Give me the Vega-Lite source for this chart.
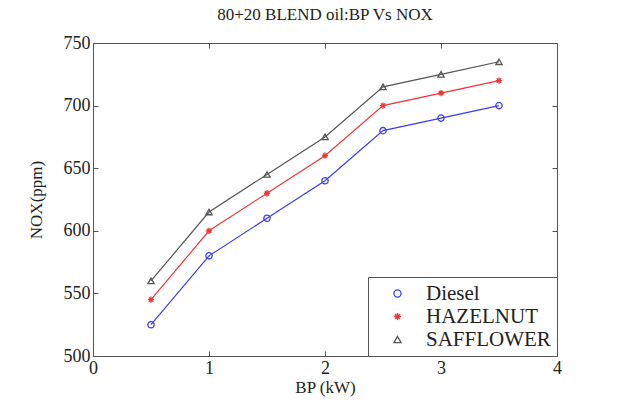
{
  "$schema": "https://vega.github.io/schema/vega-lite/v6.json",
  "width": 464,
  "height": 313,
  "autosize": {"type": "none"},
  "padding": {"left": 93, "top": 43, "right": 60, "bottom": 53},
  "background": "white",
  "title": {"text": "80+20 BLEND oil:BP Vs NOX", "font": "Liberation Serif", "fontSize": 17, "fontWeight": "normal", "color": "#222", "anchor": "middle", "offset": 10},
  "config": {
    "view": {"stroke": "#555", "strokeWidth": 1},
    "axis": {"grid": false, "labelFont": "Liberation Serif", "titleFont": "Liberation Serif", "labelFontSize": 18, "titleFontSize": 17, "titleFontWeight": "normal", "labelColor": "#222", "titleColor": "#222", "tickSize": -5, "tickColor": "#555", "domainColor": "#555"},
    "legend": {"labelFont": "Liberation Serif", "labelFontSize": 21, "labelColor": "#222"}
  },
  "data": {"values": [
    {"bp": 0.5, "nox": 525, "fuel": "Diesel"},
    {"bp": 1.0, "nox": 580, "fuel": "Diesel"},
    {"bp": 1.5, "nox": 610, "fuel": "Diesel"},
    {"bp": 2.0, "nox": 640, "fuel": "Diesel"},
    {"bp": 2.5, "nox": 680, "fuel": "Diesel"},
    {"bp": 3.0, "nox": 690, "fuel": "Diesel"},
    {"bp": 3.5, "nox": 700, "fuel": "Diesel"},
    {"bp": 0.5, "nox": 545, "fuel": "HAZELNUT"},
    {"bp": 1.0, "nox": 600, "fuel": "HAZELNUT"},
    {"bp": 1.5, "nox": 630, "fuel": "HAZELNUT"},
    {"bp": 2.0, "nox": 660, "fuel": "HAZELNUT"},
    {"bp": 2.5, "nox": 700, "fuel": "HAZELNUT"},
    {"bp": 3.0, "nox": 710, "fuel": "HAZELNUT"},
    {"bp": 3.5, "nox": 720, "fuel": "HAZELNUT"},
    {"bp": 0.5, "nox": 560, "fuel": "SAFFLOWER"},
    {"bp": 1.0, "nox": 615, "fuel": "SAFFLOWER"},
    {"bp": 1.5, "nox": 645, "fuel": "SAFFLOWER"},
    {"bp": 2.0, "nox": 675, "fuel": "SAFFLOWER"},
    {"bp": 2.5, "nox": 715, "fuel": "SAFFLOWER"},
    {"bp": 3.0, "nox": 725, "fuel": "SAFFLOWER"},
    {"bp": 3.5, "nox": 735, "fuel": "SAFFLOWER"}
  ]},
  "layer": [
    {
      "mark": {"type": "line", "strokeWidth": 1.2},
      "encoding": {
        "x": {"field": "bp", "type": "quantitative", "scale": {"domain": [0, 4], "nice": false}, "axis": {"values": [0, 1, 2, 3, 4], "title": "BP (kW)", "labelPadding": 8, "titlePadding": 2, "labelFlush": false}},
        "y": {"field": "nox", "type": "quantitative", "scale": {"domain": [500, 750], "nice": false, "zero": false}, "axis": {"values": [500, 550, 600, 650, 700, 750], "title": "NOX(ppm)", "labelPadding": 8, "titlePadding": 18}},
        "color": {"field": "fuel", "type": "nominal", "scale": {"domain": ["Diesel", "HAZELNUT", "SAFFLOWER"], "range": ["#3b3bf5", "#f03535", "#555555"]}, "legend": {"title": null, "orient": "bottom-right", "offset": 0, "strokeColor": "#555", "fillColor": "white", "padding": 6, "rowPadding": 1, "symbolSize": 50, "symbolStrokeWidth": 1.3, "symbolOffset": 13, "labelOffset": 18, "labelFont": "Liberation Serif", "labelFontSize": 21}}
      }
    },
    {
      "mark": {"type": "point", "filled": false, "size": 40, "strokeWidth": 1.3, "opacity": 1},
      "encoding": {
        "x": {"field": "bp", "type": "quantitative", "axis": {"orient": "top", "values": [1, 2, 3], "labels": false, "title": null, "domain": false}},
        "y": {"field": "nox", "type": "quantitative", "axis": {"orient": "right", "values": [550, 600, 650, 700], "labels": false, "title": null, "domain": false}},
        "color": {"field": "fuel", "type": "nominal", "scale": {"domain": ["Diesel", "HAZELNUT", "SAFFLOWER"], "range": ["#3b3bf5", "#f03535", "#555555"]}, "legend": {"title": null, "orient": "bottom-right", "offset": 0, "strokeColor": "#555", "fillColor": "white", "padding": 6, "rowPadding": 1, "symbolSize": 50, "symbolStrokeWidth": 1.3, "symbolOffset": 13, "labelOffset": 18, "labelFont": "Liberation Serif", "labelFontSize": 21}},
        "shape": {"field": "fuel", "type": "nominal", "scale": {"domain": ["Diesel", "HAZELNUT", "SAFFLOWER"], "range": ["circle", "M-1,0L1,0M0,-1L0,1M-0.7,-0.7L0.7,0.7M-0.7,0.7L0.7,-0.7", "triangle-up"]}, "legend": {"title": null, "orient": "bottom-right", "offset": 0, "strokeColor": "#555", "fillColor": "white", "padding": 6, "rowPadding": 1, "symbolSize": 50, "symbolStrokeWidth": 1.3, "symbolOffset": 13, "labelOffset": 18, "labelFont": "Liberation Serif", "labelFontSize": 21}}
      }
    }
  ],
  "resolve": {"axis": {"x": "independent", "y": "independent"}}
}
